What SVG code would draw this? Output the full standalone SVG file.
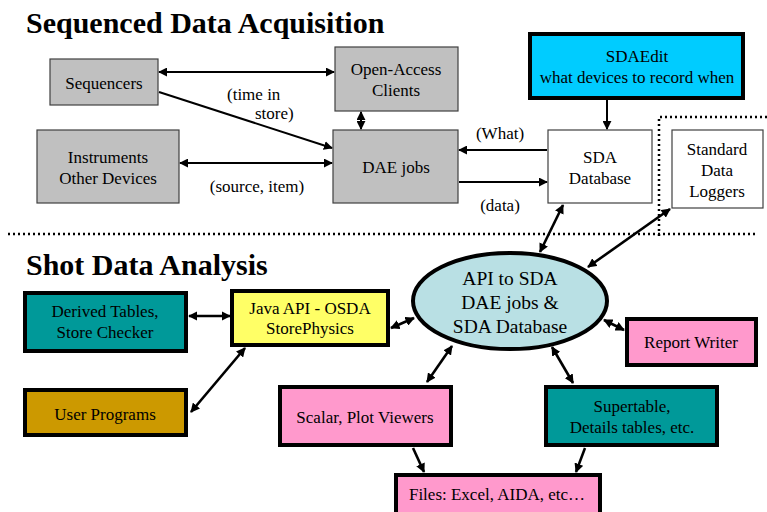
<svg xmlns="http://www.w3.org/2000/svg" width="767" height="512" viewBox="0 0 767 512">
  <style>
    text { font-family: "Liberation Serif", "Times New Roman", serif; fill: #000; }
    .title { font-size: 30px; font-weight: bold; }
    .lbl { font-size: 17px; text-anchor: middle; }
    .big { font-size: 19.5px; text-anchor: middle; }
    .note { font-size: 17px; }
    .gray { fill: #c0c0c0; stroke: #404040; stroke-width: 1.2; }
    .plain { fill: #ffffff; stroke: #404040; stroke-width: 1.2; }
    .thick { stroke: #000; stroke-width: 4; }
    .conn { fill: none; stroke: #000; stroke-width: 2; }
    .conn2 { fill: none; stroke: #000; stroke-width: 2.6; }
    .dots { fill: none; stroke: #000; stroke-width: 2.5; stroke-dasharray: 2 3; }
  </style>
  <defs>
    <marker id="ah" viewBox="0 0 10 10" refX="9" refY="5" markerWidth="4.5" markerHeight="4.5" orient="auto-start-reverse" markerUnits="strokeWidth">
      <path d="M0,0 L10,5 L0,10 z" fill="#000"/>
    </marker>
    <marker id="ah2" viewBox="0 0 10 10" refX="9" refY="5" markerWidth="3.6" markerHeight="3.6" orient="auto-start-reverse" markerUnits="strokeWidth">
      <path d="M0,0 L10,5 L0,10 z" fill="#000"/>
    </marker>
  </defs>

  <!-- section headings -->
  <text class="title" x="26" y="33">Sequenced Data Acquisition</text>
  <text class="title" x="26" y="275">Shot Data Analysis</text>

  <!-- separators -->
  <g id="separators">
    <line class="dots" x1="8" y1="234" x2="758" y2="234"/>
    <polyline class="dots" points="659,236 659,117 767,117"/>
  </g>

  <!-- acquisition side -->
  <g id="sequencers">
    <rect class="gray" x="50" y="59" width="108" height="46"/>
    <text class="lbl" x="104" y="89">Sequencers</text>
  </g>
  <g id="open-access">
    <rect class="gray" x="335" y="47" width="123" height="64"/>
    <text class="lbl" x="396" y="75">Open-Access</text>
    <text class="lbl" x="396" y="96">Clients</text>
  </g>
  <g id="instruments">
    <rect class="gray" x="37" y="130" width="142" height="73"/>
    <text class="lbl" x="108" y="163">Instruments</text>
    <text class="lbl" x="108" y="184">Other Devices</text>
  </g>
  <g id="dae-jobs">
    <rect class="gray" x="333" y="130" width="125" height="73"/>
    <text class="lbl" x="396" y="173">DAE jobs</text>
  </g>
  <g id="sdaedit">
    <rect class="thick" fill="#00ccff" x="530" y="34" width="213" height="64"/>
    <text class="lbl" x="637" y="62">SDAEdit</text>
    <text class="lbl" x="637" y="83">what devices to record when</text>
  </g>
  <g id="sda-database">
    <rect class="plain" x="548" y="130" width="104" height="73"/>
    <text class="lbl" x="600" y="163">SDA</text>
    <text class="lbl" x="600" y="184">Database</text>
  </g>
  <g id="loggers">
    <rect class="plain" x="672" y="130" width="91" height="78"/>
    <text class="lbl" x="717" y="155">Standard</text>
    <text class="lbl" x="717" y="176">Data</text>
    <text class="lbl" x="717" y="197">Loggers</text>
  </g>

  <!-- analysis side -->
  <g id="derived-tables">
    <rect class="thick" fill="#009999" x="25" y="293" width="161" height="58"/>
    <text class="lbl" x="105" y="317">Derived Tables,</text>
    <text class="lbl" x="105" y="338">Store Checker</text>
  </g>
  <g id="java-api">
    <rect class="thick" fill="#ffff66" x="232" y="291" width="156" height="54"/>
    <text class="lbl" x="310" y="314">Java API - OSDA</text>
    <text class="lbl" x="310" y="334">StorePhysics</text>
  </g>
  <g id="user-programs">
    <rect class="thick" fill="#cc9900" x="25" y="390" width="161" height="45"/>
    <text class="lbl" x="105" y="420">User Programs</text>
  </g>
  <g id="api-to-sda">
    <ellipse class="thick" fill="#b9e0e4" cx="510" cy="301" rx="97" ry="48"/>
    <text class="big" x="510" y="285">API to SDA</text>
    <text class="big" x="510" y="309">DAE jobs &amp;</text>
    <text class="big" x="510" y="333">SDA Database</text>
  </g>
  <g id="report-writer">
    <rect class="thick" fill="#ff99cc" x="627" y="319" width="129" height="46"/>
    <text class="lbl" x="691" y="348">Report Writer</text>
  </g>
  <g id="viewers">
    <rect class="thick" fill="#ff99cc" x="280" y="387" width="171" height="58"/>
    <text class="lbl" x="365" y="423">Scalar, Plot Viewers</text>
  </g>
  <g id="supertable">
    <rect class="thick" fill="#009999" x="546" y="387" width="171" height="58"/>
    <text class="lbl" x="632" y="412">Supertable,</text>
    <text class="lbl" x="632" y="433">Details tables, etc.</text>
  </g>
  <g id="files">
    <rect class="thick" fill="#ff99cc" x="396" y="475" width="204" height="42"/>
    <text class="lbl" x="497" y="500">Files: Excel, AIDA, etc…</text>
  </g>

  <!-- connectors -->
  <g id="connectors">
    <line class="conn" x1="159" y1="72" x2="334" y2="72" marker-start="url(#ah)" marker-end="url(#ah)"/>
    <line class="conn" x1="159" y1="92" x2="332" y2="148" marker-end="url(#ah)"/>
    <line class="conn" x1="361" y1="112" x2="361" y2="129" marker-start="url(#ah)" marker-end="url(#ah)"/>
    <line class="conn" x1="180" y1="163" x2="332" y2="163" marker-start="url(#ah)" marker-end="url(#ah)"/>
    <line class="conn" x1="547" y1="150" x2="459" y2="150" marker-end="url(#ah)"/>
    <line class="conn" x1="459" y1="182" x2="547" y2="182" marker-end="url(#ah)"/>
    <line class="conn" x1="607" y1="100" x2="607" y2="129" marker-end="url(#ah)"/>

    <line class="conn2" x1="540" y1="252" x2="563" y2="205" marker-start="url(#ah2)" marker-end="url(#ah2)"/>
    <line class="conn2" x1="588" y1="267" x2="670" y2="209" marker-start="url(#ah2)" marker-end="url(#ah2)"/>
    <line class="conn2" x1="189" y1="316" x2="230" y2="316" marker-start="url(#ah2)" marker-end="url(#ah2)"/>
    <line class="conn2" x1="245" y1="348" x2="191" y2="412" marker-start="url(#ah2)" marker-end="url(#ah2)"/>
    <line class="conn2" x1="391" y1="328" x2="414" y2="318" marker-start="url(#ah2)" marker-end="url(#ah2)"/>
    <line class="conn2" x1="604" y1="320" x2="624" y2="330" marker-start="url(#ah2)" marker-end="url(#ah2)"/>
    <line class="conn2" x1="452" y1="346" x2="427" y2="382" marker-start="url(#ah2)" marker-end="url(#ah2)"/>
    <line class="conn2" x1="552" y1="347" x2="573" y2="383" marker-start="url(#ah2)" marker-end="url(#ah2)"/>
    <line class="conn2" x1="413" y1="448" x2="424" y2="472" marker-end="url(#ah2)"/>
    <line class="conn2" x1="585" y1="448" x2="576" y2="472" marker-end="url(#ah2)"/>
  </g>

  <!-- connector labels -->
  <g id="labels">
    <text class="note" x="227" y="100">(time in</text>
    <text class="note" x="255" y="119">store)</text>
    <text class="lbl" x="257" y="192">(source, item)</text>
    <text class="lbl" x="500" y="139">(What)</text>
    <text class="lbl" x="500" y="211">(data)</text>
  </g>
</svg>
